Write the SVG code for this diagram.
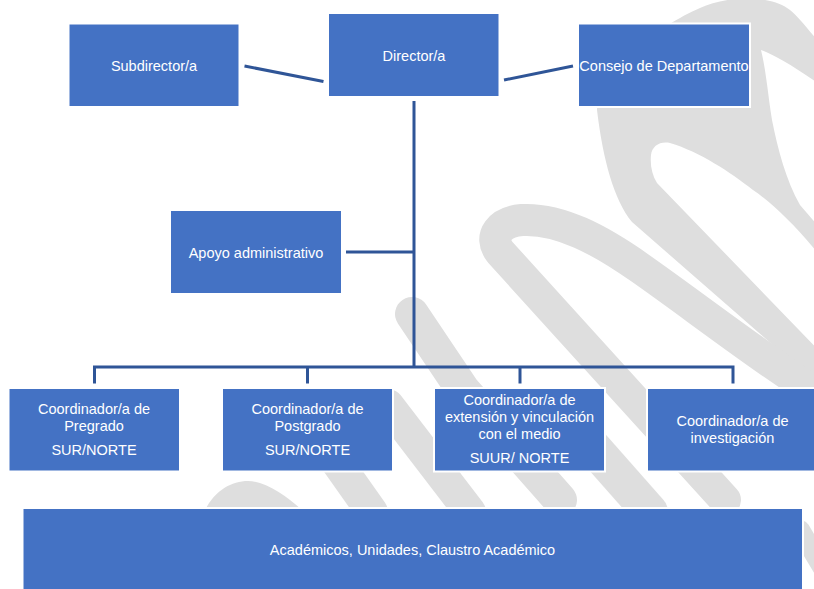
<svg xmlns="http://www.w3.org/2000/svg" width="814" height="589" viewBox="0 0 814 589">
<style>
.wm{fill:none;stroke:#DEDEDE;stroke-linecap:round;stroke-linejoin:round}
.wmf{fill:#DEDEDE;stroke:none}
.box{fill:#4472C4;stroke:#FFFFFF;stroke-width:2}
.lbl{font-family:"Liberation Sans",Arial,sans-serif;font-size:14.5px;fill:#FFFFFF;text-anchor:middle}
.conn{fill:none;stroke:#2F5597;stroke-width:3}
</style>
<rect x="0" y="0" width="814" height="589" fill="#FFFFFF"/>
<g id="watermark">
<path class="wmf" d="M 830,395 L 632,222 C 614,200 603,160 597,110 C 600,70 660,25 700,8 C 725,-4 770,-6 790,10 C 800,18 808,30 830,55 L 830,92 C 800,70 775,55 761,50 C 766,70 768,95 772,120 C 778,150 786,180 800,205 L 830,240 L 830,268 C 800,230 775,205 753,190 C 730,172 700,152 670,143 C 660,141 652,146 651,155 C 650,165 652,175 657,183 L 830,362 Z"/>
<path class="wm" stroke-width="32" d="M 725,500 L 500,252 C 488,236 500,222 522,220 C 560,218 600,240 640,268 C 700,310 760,358 850,415"/>
<path class="wm" stroke-width="34" d="M 412,314 L 463,390 L 560,500"/>
<path class="wm" stroke-width="32" d="M 388,405 L 470,512"/>
<path class="wm" stroke-width="32" d="M 300,410 L 372,512"/>
<path class="wm" stroke-width="36" d="M 560,410 L 650,512"/>
<path class="wm" stroke-width="20" d="M 800,530 L 830,580"/>
<path class="wmf" d="M 205,510 C 215,490 232,481 248,481 C 265,481 285,495 302,510 Z"/>
</g>
<g id="connectors">
<line class="conn" x1="244.5" y1="66" x2="323.5" y2="81.5"/>
<line class="conn" x1="504" y1="80" x2="573" y2="66"/>
<line class="conn" x1="414" y1="101" x2="414" y2="367"/>
<line class="conn" x1="346" y1="252" x2="414" y2="252"/>
<polyline class="conn" points="94.5,383.5 94.5,367 733,367 733,383.5"/>
<line class="conn" x1="307.5" y1="367" x2="307.5" y2="383.5"/>
<line class="conn" x1="520" y1="367" x2="520" y2="383.5"/>
</g>
<g id="subdirector">
<rect class="box" x="68.5" y="23.5" width="171" height="83.5"/>
<text class="lbl" x="154" y="71">Subdirector/a</text>
</g>
<g id="director">
<rect class="box" x="328" y="13" width="171.5" height="84"/>
<text class="lbl" x="414" y="61">Director/a</text>
</g>
<g id="consejo">
<rect class="box" x="578" y="23.5" width="172" height="83.5"/>
<text class="lbl" x="664" y="71">Consejo de Departamento</text>
</g>
<g id="apoyo">
<rect class="box" x="170" y="210" width="172" height="84"/>
<text class="lbl" x="256" y="258">Apoyo administrativo</text>
</g>
<g id="pregrado">
<rect class="box" x="8.5" y="388" width="171.5" height="83.5"/>
<text class="lbl" x="94" y="414">Coordinador/a de</text>
<text class="lbl" x="94" y="431">Pregrado</text>
<text class="lbl" x="94" y="455">SUR/NORTE</text>
</g>
<g id="postgrado">
<rect class="box" x="222" y="388" width="171" height="83.5"/>
<text class="lbl" x="307.5" y="414">Coordinador/a de</text>
<text class="lbl" x="307.5" y="431">Postgrado</text>
<text class="lbl" x="307.5" y="455">SUR/NORTE</text>
</g>
<g id="extension">
<rect class="box" x="434" y="388" width="171" height="83.5"/>
<text class="lbl" x="519.5" y="405">Coordinador/a de</text>
<text class="lbl" x="519.5" y="422">extensión y vinculación</text>
<text class="lbl" x="519.5" y="439">con el medio</text>
<text class="lbl" x="519.5" y="463">SUUR/ NORTE</text>
</g>
<g id="investigacion">
<rect class="box" x="647" y="388" width="175" height="83.5"/>
<text class="lbl" x="732.5" y="426">Coordinador/a de</text>
<text class="lbl" x="732.5" y="443">investigación</text>
</g>
<g id="academicos">
<rect class="box" x="22.5" y="508" width="780.5" height="100"/>
<text class="lbl" x="412.5" y="555">Académicos, Unidades, Claustro Académico</text>
</g>
</svg>
